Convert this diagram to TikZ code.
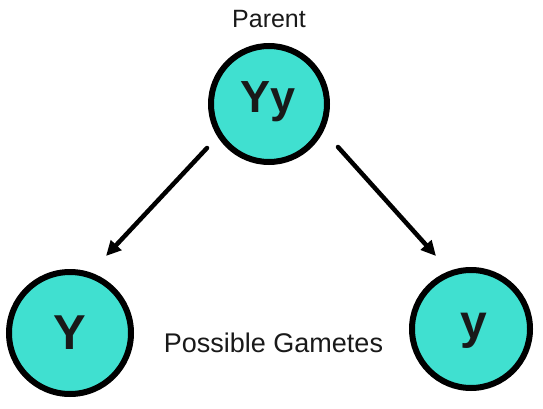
\documentclass[tikz,border=0pt]{standalone}
\usepackage{fontspec}
\setmainfont{Liberation Sans}
\usetikzlibrary{arrows.meta}
\definecolor{gamete}{HTML}{40E0D0}
\tikzset{
  cell/.style={circle, draw=black, line width=6pt, fill=gamete, inner sep=0pt},
  allele/.style={anchor=base, font=\bfseries, text=black!90},
  caption/.style={anchor=base, text=black!90},
  conn/.style={line width=4.5pt, line cap=round, -{Triangle[length=15pt,width=14pt]}},
}
\begin{document}
\begin{tikzpicture}[x=1pt,y=-1pt]
\useasboundingbox (0,0) rectangle (543,409);
\node[cell, minimum size=116pt] (parent) at (269,104) {};
\node[cell, minimum size=122pt] (gY) at (70,333) {};
\node[cell, minimum size=118pt] (gy) at (471,329) {};
\node[allele, font=\fontsize{45}{45}\selectfont\bfseries] (tYy) at (268,113) {Yy};
\node[allele, font=\fontsize{49}{49}\selectfont\bfseries] (tY) at (70,349) {Y};
\node[allele, font=\fontsize{48}{48}\selectfont\bfseries] (ty) at (474,338) {y};
\node[caption, font=\fontsize{25}{25}\selectfont] (lparent) at (269,28) {Parent};
\node[caption, font=\fontsize{27}{27}\selectfont] (lgam) at (273.5,352) {Possible Gametes};
\coordinate (a1s) at (207,148);
\coordinate (a1e) at (106,256);
\coordinate (a2s) at (338,147);
\coordinate (a2e) at (436,256);
\draw[conn] (a1s) -- (a1e);
\draw[conn] (a2s) -- (a2e);
\end{tikzpicture}
\end{document}
